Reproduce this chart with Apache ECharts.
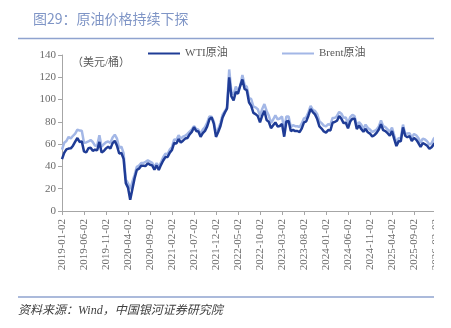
<!DOCTYPE html>
<html><head><meta charset="utf-8">
<script src="https://cdn.jsdelivr.net/npm/echarts@6/dist/echarts.min.js"></script>
<style>html,body{margin:0;padding:0;background:#fff}#c{width:451px;height:328px}</style>
</head><body><div id="c"></div>
<script>
// Categories: 2nd and 17th of each month, 2019-01-02 .. 2026-02-02
const categories = [];
for (let y = 2019; y <= 2026; y++) {
  for (let m = 1; m <= 12; m++) {
    const mm = (m < 10 ? '0' : '') + m;
    categories.push(y + '-' + mm + '-02');
    if (y === 2026 && m === 2) break;
    categories.push(y + '-' + mm + '-17');
  }
  if (y === 2026) break;
}
const yTicks = [0, 20, 40, 60, 80, 100, 120, 140];
const wti2019 = [46.5, 52.1, 55.3, 56.0, 56.2, 58.6, 62.2, 65.5, 62.0, 62.5, 53.5, 52.5, 56.3, 56.8, 54.0, 55.0, 54.5, 62.0, 52.5, 53.9, 56.2, 57.7, 56.0, 60.9];
const wti2020 = [63.0, 58.5, 51.6, 52.0, 46.8, 25.0, 21.0, 10.0, 19.8, 29.4, 36.8, 38.0, 40.6, 40.6, 40.3, 42.9, 41.5, 40.9, 37.0, 40.9, 36.8, 41.4, 45.3, 48.4];
const wti2021 = [48.5, 52.4, 54.8, 61.1, 60.6, 64.6, 61.5, 63.1, 65.0, 65.5, 68.8, 71.0, 75.2, 71.8, 71.3, 66.6, 69.9, 71.9, 75.9, 82.3, 84.0, 78.4, 66.5, 70.9];
const wti2022 = [76.0, 84.0, 88.3, 91.8, 120.0, 102.9, 99.3, 106.9, 105.2, 112.4, 118.0, 109.6, 108.4, 97.6, 94.4, 88.1, 86.9, 85.1, 79.5, 85.5, 90.0, 81.6, 80.0, 74.3];
const wti2023 = [76.9, 79.5, 75.9, 76.3, 78.2, 66.7, 80.4, 80.8, 71.7, 72.8, 71.7, 71.8, 70.8, 74.2, 79.5, 80.4, 85.5, 91.5, 88.8, 86.7, 82.5, 75.9, 74.0, 71.4];
const wti2024 = [70.4, 72.6, 72.3, 79.2, 80.0, 81.0, 85.2, 82.7, 78.9, 79.2, 74.2, 80.3, 82.8, 82.9, 73.5, 76.7, 73.6, 71.2, 73.7, 70.7, 69.5, 66.9, 68.0, 70.1];
const wti2025 = [73.1, 77.9, 72.5, 71.7, 69.8, 67.6, 71.7, 64.7, 58.3, 62.5, 62.5, 75.0, 67.5, 66.2, 67.3, 62.8, 65.6, 64.0, 61.0, 57.5, 61.0, 59.9, 58.6, 55.9];
const wti2026 = [57.3, 60.0, 62.0];
const brent2019 = [55.0, 61.2, 62.8, 66.5, 65.1, 67.5, 69.4, 73.0, 72.2, 72.0, 61.3, 61.5, 62.4, 63.7, 61.9, 58.6, 58.7, 68.0, 57.7, 59.9, 61.7, 62.4, 61.0, 66.0];
const brent2020 = [68.5, 64.9, 56.6, 57.7, 51.9, 28.0, 25.0, 19.5, 26.4, 32.5, 39.6, 40.7, 43.1, 43.1, 44.2, 45.4, 44.4, 43.3, 39.3, 42.9, 39.7, 43.8, 48.3, 51.5];
const brent2021 = [51.1, 55.1, 57.5, 64.3, 63.7, 68.0, 64.9, 66.8, 67.6, 69.2, 71.3, 73.1, 76.2, 73.6, 72.9, 69.0, 73.0, 75.3, 79.3, 84.9, 84.7, 80.3, 69.7, 73.5];
const brent2022 = [78.9, 86.5, 89.5, 92.9, 127.0, 106.6, 104.4, 111.7, 107.6, 111.9, 122.0, 113.1, 111.6, 101.2, 100.5, 93.7, 93.0, 91.4, 85.1, 91.6, 96.0, 89.8, 85.6, 79.0];
const brent2023 = [82.1, 85.9, 82.2, 83.0, 84.8, 73.0, 84.9, 84.8, 75.3, 77.0, 76.1, 76.1, 75.4, 78.5, 83.2, 84.1, 88.6, 94.4, 90.7, 89.9, 86.9, 80.6, 78.9, 76.6];
const brent2024 = [75.9, 77.9, 77.3, 83.5, 83.6, 85.3, 89.0, 87.3, 83.7, 83.9, 78.4, 84.3, 86.2, 85.1, 76.8, 79.7, 77.5, 73.7, 77.5, 74.5, 73.1, 71.0, 71.8, 73.2];
const brent2025 = [75.9, 81.3, 76.2, 75.2, 73.2, 71.0, 74.9, 67.9, 61.3, 65.4, 65.6, 77.5, 69.1, 69.5, 69.7, 65.9, 69.1, 68.0, 65.4, 61.3, 64.9, 64.2, 62.5, 59.7];
const brent2026 = [60.8, 65.0, 67.0];

const wti = [].concat(wti2019, wti2020, wti2021, wti2022, wti2023, wti2024, wti2025, wti2026);
const brent = [].concat(brent2019, brent2020, brent2021, brent2022, brent2023, brent2024, brent2025, brent2026);

const serif = '"Liberation Serif", "Noto Sans CJK SC", serif';
const chart = echarts.init(document.getElementById('c'), null, {renderer: 'canvas'});
chart.setOption({
  animation: false,
  backgroundColor: '#ffffff',
  title: {
    text: '图29：原油价格持续下探',
    left: 28, top: 7,
    textStyle: {fontFamily: '"Noto Sans CJK SC", sans-serif', fontSize: 14, fontWeight: 'normal', color: '#7f95c6'}
  },
  legend: [
    {data: ['WTI原油'], left: 143, top: 43, icon: 'rect', itemWidth: 32, itemHeight: 2, itemGap: 0,
     textStyle: {fontFamily: serif, fontSize: 11, color: '#595959'}},
    {data: ['Brent原油'], left: 277, top: 43, icon: 'rect', itemWidth: 32, itemHeight: 2, itemGap: 0,
     textStyle: {fontFamily: serif, fontSize: 11, color: '#595959'}}
  ],
  grid: {left: 62, right: 15, top: 55, bottom: 117, containLabel: false},
  xAxis: {
    type: 'category', data: categories, boundaryGap: false,
    axisLine: {lineStyle: {color: '#a6a6a6', width: 1}},
    axisTick: {interval: 9, length: 4, lineStyle: {color: '#a6a6a6'}},
    axisLabel: {interval: 9, rotate: 90, margin: 8, fontFamily: serif, fontSize: 11, color: '#6b6b6b'},
    splitLine: {show: false}
  },
  yAxis: {
    type: 'value', min: 0, max: 140, interval: 20,
    axisLine: {show: true, lineStyle: {color: '#a6a6a6', width: 1}},
    axisTick: {show: true, length: 4, lineStyle: {color: '#a6a6a6'}},
    axisLabel: {margin: 6, fontFamily: serif, fontSize: 11, color: '#6b6b6b',
      formatter: v => yTicks.indexOf(v) >= 0 ? String(v) : ''},
    splitLine: {show: false}
  },
  series: [
    {name: 'Brent原油', type: 'line', data: brent, symbol: 'none', z: 2,
     lineStyle: {color: '#a3b7e6', width: 2.5}, itemStyle: {color: '#a3b7e6'}},
    {name: 'WTI原油', type: 'line', data: wti, symbol: 'none', z: 3,
     lineStyle: {color: '#1f3c96', width: 2.5}, itemStyle: {color: '#1f3c96'}}
  ],
  graphic: [
    {type: 'rect', z: 100, shape: {x: 434, y: 40, width: 20, height: 250}, style: {fill: '#ffffff'}},
    {type: 'line', z: 101, shape: {x1: 18, y1: 38.5, x2: 434, y2: 38.5}, style: {stroke: '#8fa3cf', lineWidth: 1.5}},
    {type: 'line', z: 101, shape: {x1: 18, y1: 297, x2: 434, y2: 297}, style: {stroke: '#8fa3cf', lineWidth: 1.5}},
    {type: 'text', z: 101, left: 72, top: 58,
     style: {text: '（美元/桶）', fontFamily: serif, fontSize: 11, fill: '#595959'}},
    {type: 'text', z: 101, left: 18, top: 305,
     style: {text: '资料来源：Wind，中国银河证券研究院', fontFamily: serif, fontSize: 12, fontStyle: 'italic', fill: '#404040'}}
  ]
});
</script></body></html>
